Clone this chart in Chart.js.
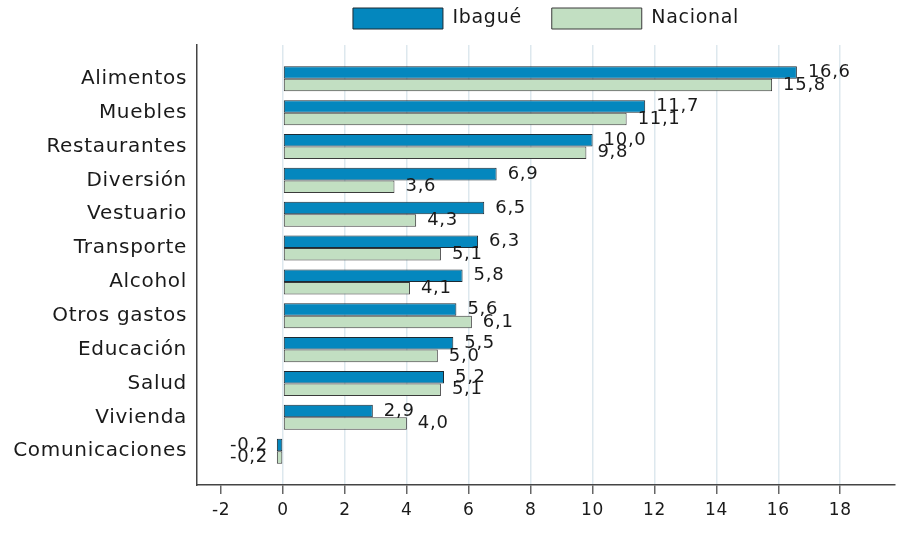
<!DOCTYPE html>
<html>
<head>
<meta charset="utf-8">
<script src="https://cdn.jsdelivr.net/npm/chart.js@4/dist/chart.umd.min.js"></script>
<style>
  body { margin: 0; background: #fff; }
</style>
</head>
<body>
<canvas id="miGrafico" width="909" height="538"></canvas>
<script>
// Datos del gráfico
var categorias = ["Alimentos", "Muebles", "Restaurantes", "Diversión", "Vestuario", "Transporte",
  "Alcohol", "Otros gastos", "Educación", "Salud", "Vivienda", "Comunicaciones"];
var ibague = [16.6, 11.7, 10.0, 6.9, 6.5, 6.3, 5.8, 5.6, 5.5, 5.2, 2.9, -0.2];
var nacional = [15.8, 11.1, 9.8, 3.6, 4.3, 5.1, 4.1, 6.1, 5.0, 5.1, 4.0, -0.2];
var ticksX = [-2, 0, 2, 4, 6, 8, 10, 12, 14, 16, 18];

// Una categoría vacía arriba y abajo deja el margen del gráfico original
var etiquetasY = [""].concat(categorias, [""]);
function conMargen(valores) { return [null].concat(valores, [null]); }

var fuente = '"DejaVu Sans", Arial, sans-serif';
var colorTexto = "#1a1a1a";

// Texto un poco más ancho, como en la imagen
var espaciado = {
  id: "espaciado",
  beforeUpdate: function (chart) { chart.ctx.letterSpacing = "0.7px"; },
  beforeDraw: function (chart) { chart.ctx.letterSpacing = "0.7px"; }
};

// Valores al final de cada barra, con coma decimal
var etiquetas = {
  id: "etiquetas",
  afterDatasetsDraw: function (chart) {
    var ctx = chart.ctx;
    ctx.save();
    ctx.font = "18px " + fuente;
    ctx.fillStyle = colorTexto;
    ctx.textBaseline = "middle";
    chart.data.datasets.forEach(function (ds, i) {
      chart.getDatasetMeta(i).data.forEach(function (barra, j) {
        var v = ds.data[j];
        if (v === null || v === undefined) return;
        var txt = v.toFixed(1).replace(".", ",");
        if (v >= 0) {
          ctx.textAlign = "left";
          ctx.fillText(txt, barra.x + 11, barra.y);
        } else {
          ctx.textAlign = "right";
          ctx.fillText(txt, barra.x - 9, barra.y);
        }
      });
    });
    ctx.restore();
  }
};

var ctx = document.getElementById("miGrafico").getContext("2d");

var miGrafico = new Chart(ctx, {
  type: "bar",
  data: {
    labels: etiquetasY,
    datasets: [
      {
        label: "Ibagué",
        data: conMargen(ibague),
        backgroundColor: "#0487BE",
        borderColor: "#1c2a33",
        borderWidth: 1,
        borderSkipped: false,
        barPercentage: 1,
        categoryPercentage: 0.74
      },
      {
        label: "Nacional",
        data: conMargen(nacional),
        backgroundColor: "#C2DFC2",
        borderColor: "#3a3a3a",
        borderWidth: 1,
        borderSkipped: false,
        barPercentage: 1,
        categoryPercentage: 0.74
      }
    ]
  },
  options: {
    indexAxis: "y",
    responsive: false,
    animation: false,
    layout: { padding: { left: 0, right: 14, top: -22, bottom: 0 } },
    scales: {
      x: {
        type: "linear",
        position: "bottom",
        min: -2.78,
        max: 19.77,
        afterBuildTicks: function (s) {
          s.ticks = ticksX.map(function (v) { return { value: v }; });
        },
        afterFit: function (s) { s.height = 53; },
        grid: {
          color: function (c) {
            return c.tick && c.tick.value === -2 ? "rgba(0,0,0,0)" : "#DDE8EE";
          },
          lineWidth: 1.5,
          tickColor: "#666",
          tickLength: 9
        },
        border: { display: true, color: "#444", width: 1.5 },
        ticks: {
          font: { family: fuente, size: 17 },
          color: colorTexto,
          padding: 6,
          callback: function (v) { return v; }
        }
      },
      y: {
        type: "category",
        offset: false,
        afterFit: function (s) { s.width = 197; },
        grid: { display: false, drawTicks: false },
        border: { display: true, color: "#444", width: 1.5 },
        ticks: {
          autoSkip: false,
          font: { family: fuente, size: 20 },
          color: colorTexto,
          padding: 10
        }
      },
      arriba: {
        type: "linear",
        position: "top",
        afterFit: function (s) { s.height = 6; },
        grid: { display: false, drawTicks: false },
        border: { display: false },
        ticks: { display: false }
      }
    },
    plugins: {
      legend: {
        position: "top",
        fullSize: false,
        labels: {
          boxWidth: 90,
          boxHeight: 21,
          padding: 30,
          color: colorTexto,
          font: { family: fuente, size: 19 }
        }
      },
      tooltip: { enabled: false },
      title: { display: false }
    }
  },
  plugins: [espaciado, etiquetas]
});
</script>
</body>
</html>
